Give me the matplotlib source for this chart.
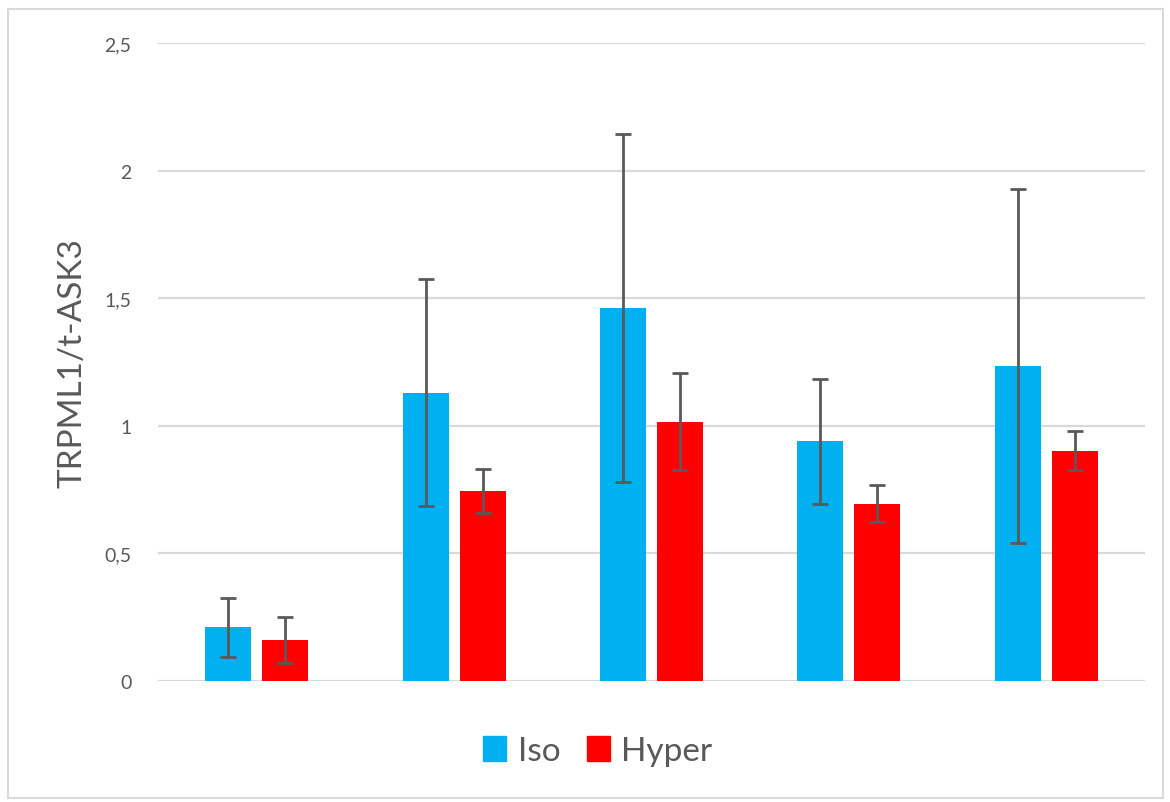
import matplotlib
matplotlib.use("Agg")
import matplotlib.pyplot as plt
from matplotlib.patches import Rectangle, Patch
from matplotlib.ticker import FuncFormatter
import numpy as np

# Data
groups = ["1", "2", "3", "4", "5"]
iso_values = [0.21, 1.13, 1.462, 0.94, 1.233]
iso_errors = [0.115, 0.445, 0.683, 0.245, 0.693]
hyper_values = [0.16, 0.745, 1.015, 0.695, 0.903]
hyper_errors = [0.09, 0.085, 0.19, 0.073, 0.075]
series_names = ["Iso", "Hyper"]
y_ticks = [0, 0.5, 1, 1.5, 2, 2.5]
y_label = "TRPML1/t-ASK3"

plt.rcParams['font.family'] = ['Lato', 'DejaVu Sans']
text_color = "#595959"

fig = plt.figure(figsize=(11.70, 8.03), dpi=100)
fig.patches.append(Rectangle((8/1170, 1-799/803), (1163-8)/1170, (799-10)/803,
                             transform=fig.transFigure, fill=False,
                             edgecolor="#d9d9d9", linewidth=1.5))

ax = fig.add_axes([158/1170, 1-682/803, (1145-158)/1170, (682-44)/803])

x = np.arange(len(groups))
bw = 0.233
off = 0.144
err_kw = dict(ecolor="#595959", elinewidth=2.0, capsize=6, capthick=2.0)
ax.bar(x - off, iso_values, bw, yerr=iso_errors, color="#00B0F0", error_kw=err_kw,
       label=series_names[0], zorder=2)
ax.bar(x + off, hyper_values, bw, yerr=hyper_errors, color="#FF0000", error_kw=err_kw,
       label=series_names[1], zorder=2)

ax.set_xlim(-0.5, len(groups) - 0.5)
ax.set_ylim(0, 2.5)
ax.set_yticks(y_ticks)
ax.yaxis.set_major_formatter(FuncFormatter(lambda v, p: f"{v:g}".replace(".", ",")))
ax.set_xticks([])
ax.grid(axis="y", color="#d9d9d9", linewidth=1.6, zorder=0)
ax.set_axisbelow(True)
for s in ax.spines.values():
    s.set_visible(False)
ax.tick_params(axis="y", length=0, pad=19, labelsize=14, labelcolor=text_color)

ax.set_ylabel(y_label, fontsize=24, color=text_color)
ax.yaxis.set_label_coords(-70/987, 0.5)

handles = [Patch(color="#00B0F0", label=series_names[0]),
           Patch(color="#FF0000", label=series_names[1])]
leg = fig.legend(handles=handles, loc="center", bbox_to_anchor=(598/1170, 1-752/803),
                 ncol=2, frameon=False, fontsize=24, handlelength=0.68, handleheight=0.8,
                 handletextpad=0.35, columnspacing=0.8)
for t in leg.get_texts():
    t.set_color(text_color)

fig.savefig("out.png", dpi=100)
